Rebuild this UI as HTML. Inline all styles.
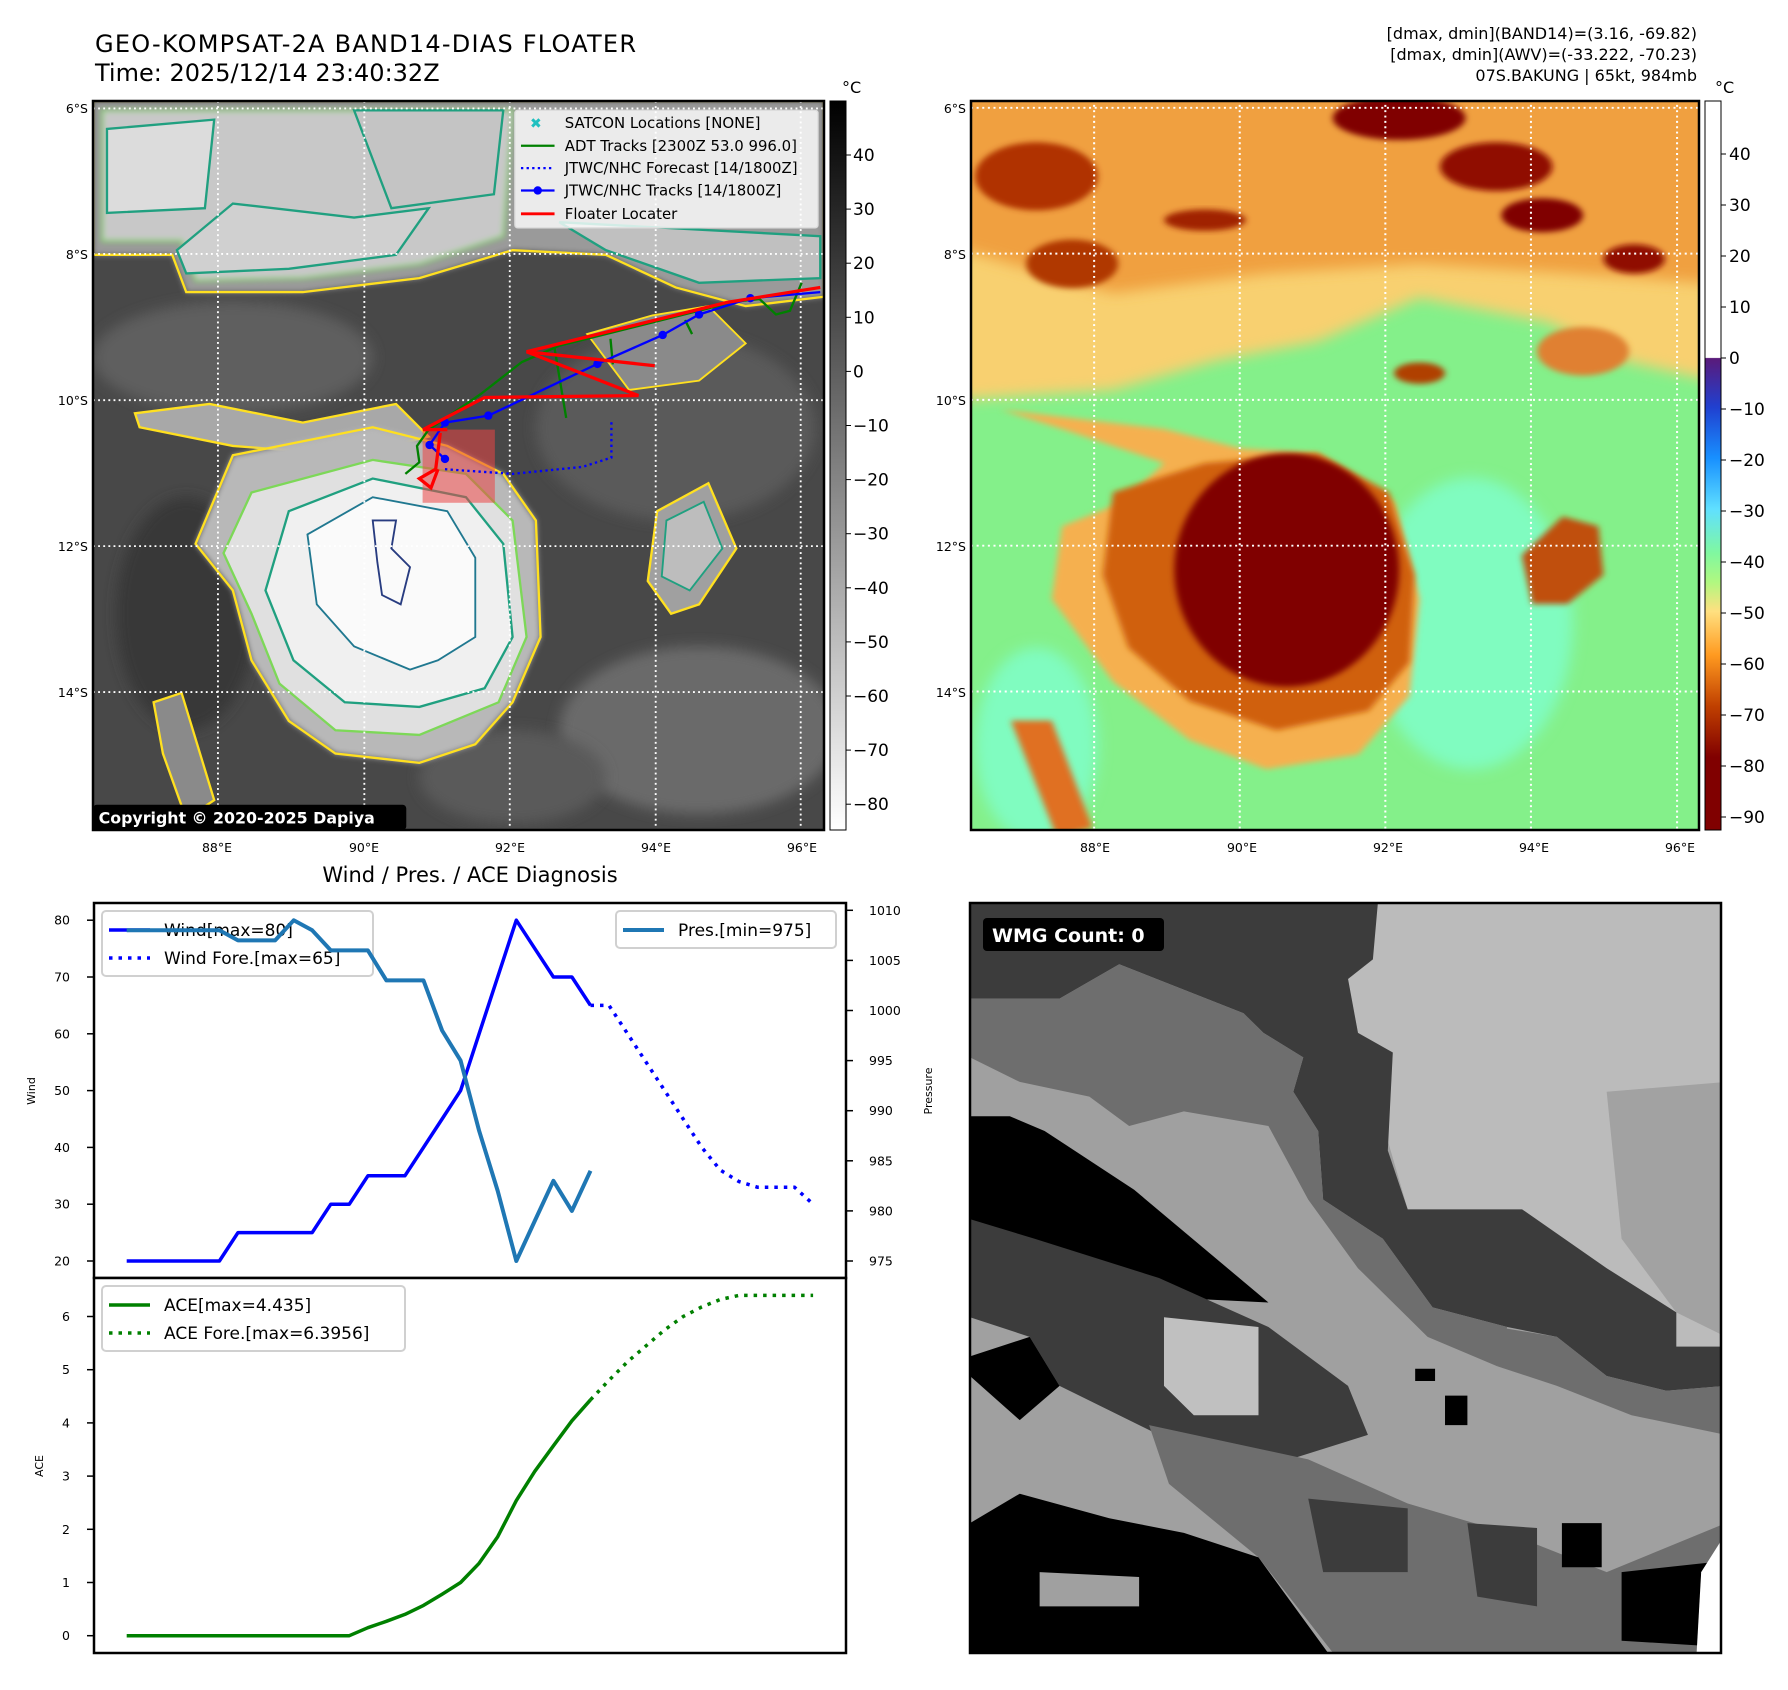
<!DOCTYPE html>
<html><head><meta charset="utf-8"><style>
html,body{margin:0;padding:0;background:#fff}
svg{display:block;font-family:"DejaVu Sans","Liberation Sans",sans-serif}
</style></head><body>
<svg id="fig" width="1788" height="1690" viewBox="0 0 1788 1690" xmlns="http://www.w3.org/2000/svg">
<defs>
<filter id="b4" x="-20%" y="-20%" width="140%" height="140%"><feGaussianBlur stdDeviation="6"/></filter>
<filter id="b10" x="-30%" y="-30%" width="160%" height="160%"><feGaussianBlur stdDeviation="14"/></filter>
<clipPath id="cl1"><rect x="93" y="101" width="731" height="729"/></clipPath>
<clipPath id="cl2"><rect x="971" y="101" width="728" height="729"/></clipPath>
<clipPath id="cl3"><rect x="970" y="903" width="751" height="750"/></clipPath>
<linearGradient id="gcb" x1="0" y1="0" x2="0" y2="1"><stop offset="0" stop-color="#000"/><stop offset="1" stop-color="#fff"/></linearGradient>
<linearGradient id="ccb" x1="0" y1="0" x2="0" y2="1">
<stop offset="0" stop-color="#fff"/><stop offset="0.352" stop-color="#fff"/><stop offset="0.353" stop-color="#5a1a7a"/>
<stop offset="0.42" stop-color="#2040d0"/><stop offset="0.49" stop-color="#1890ff"/><stop offset="0.56" stop-color="#60e0ff"/>
<stop offset="0.62" stop-color="#80f8a0"/><stop offset="0.66" stop-color="#b0f880"/><stop offset="0.70" stop-color="#ffe080"/>
<stop offset="0.76" stop-color="#ff9a20"/><stop offset="0.83" stop-color="#c04000"/><stop offset="0.90" stop-color="#800000"/><stop offset="1" stop-color="#800000"/></linearGradient>
</defs>

<text x="95" y="52" font-size="24" textLength="541">GEO-KOMPSAT-2A BAND14-DIAS FLOATER</text>
<text x="95" y="81" font-size="24">Time: 2025/12/14 23:40:32Z</text>
<g font-size="16" text-anchor="end">
<text x="1697" y="39">[dmax, dmin](BAND14)=(3.16, -69.82)</text>
<text x="1697" y="60">[dmax, dmin](AWV)=(-33.222, -70.23)</text>
<text x="1697" y="81">07S.BAKUNG | 65kt, 984mb</text>
</g>

<g clip-path="url(#cl1)">
<g transform="translate(93,101) scale(0.4662,0.4661)">
<rect x="0" y="0" width="1568" height="1564" fill="#484848"/>
<ellipse cx="1250" cy="700" rx="300" ry="200" fill="#5a5a5a" filter="url(#b10)"/>
<ellipse cx="1300" cy="1350" rx="300" ry="180" fill="#6a6a6a" filter="url(#b10)"/>
<ellipse cx="300" cy="550" rx="300" ry="120" fill="#5e5e5e" filter="url(#b10)"/>
<ellipse cx="900" cy="1450" rx="200" ry="100" fill="#5a5a5a" filter="url(#b10)"/>
<ellipse cx="200" cy="1100" rx="150" ry="250" fill="#383838" filter="url(#b10)"/>
<path d="M0,0 L1568,0 L1568,420 L1400,440 L1250,400 L1100,330 L900,320 L700,380 L450,410 L200,410 L170,330 L0,330 Z" fill="#9a9a9a" filter="url(#b4)"/>
<path d="M0,0 L1568,0 L1568,420 L1400,440 L1250,400 L1100,330 L900,320 L700,380 L450,410 L200,410 L170,330 L0,330 Z" fill="none" stroke="#ffe020" stroke-width="5"/>
<path d="M20,20 L900,20 L880,290 L700,350 L450,380 L220,385 L190,300 L20,300 Z" fill="#c8c8c8" filter="url(#b4)" stroke="#7dd858" stroke-width="5"/>
<path d="M30,60 L260,40 L240,230 L30,240 Z" fill="#dcdcdc" stroke="#20a080" stroke-width="5"/>
<path d="M180,320 L300,220 L560,250 L720,230 L650,330 L420,360 L200,370 Z" fill="#d0d0d0" stroke="#20a080" stroke-width="5"/>
<path d="M1000,260 L1560,290 L1560,380 L1300,390 L1100,320 Z" fill="#c0c0c0" stroke="#20a080" stroke-width="5"/>
<path d="M560,20 L880,20 L860,200 L640,230 Z" fill="#c4c4c4" stroke="#20a080" stroke-width="5"/>
<path d="M90,670 L250,650 L450,690 L650,650 L720,720 L560,760 L300,740 L100,700 Z" fill="#a8a8a8" stroke="#ffe020" stroke-width="5"/>
<path d="M300,760 L600,700 L760,740 L880,800 L950,900 L960,1150 L900,1290 L820,1380 L700,1420 L520,1400 L420,1330 L340,1200 L300,1050 L220,950 Z" fill="#b8b8b8" filter="url(#b4)"/>
<path d="M300,760 L600,700 L760,740 L880,800 L950,900 L960,1150 L900,1290 L820,1380 L700,1420 L520,1400 L420,1330 L340,1200 L300,1050 L220,950 Z" fill="none" stroke="#ffe020" stroke-width="5"/>
<path d="M340,840 L600,770 L800,800 L900,900 L930,1150 L870,1290 L700,1360 L520,1350 L400,1250 L340,1100 L280,970 Z" fill="#e0e0e0" stroke="#7dd858" stroke-width="5"/>
<path d="M420,880 L600,810 L800,850 L880,950 L900,1150 L840,1260 L700,1300 L540,1290 L430,1200 L370,1050 Z" fill="#f0f0f0" stroke="#20a080" stroke-width="5"/>
<path d="M460,930 L600,850 L760,880 L820,980 L820,1150 L740,1200 L680,1220 L560,1170 L480,1080 Z" fill="#fafafa" stroke="#207890" stroke-width="4"/>
<path d="M600,900 L650,900 L640,960 L680,1000 L660,1080 L620,1060 L610,990 Z" fill="none" stroke="#283c80" stroke-width="4"/>
<path d="M1210,880 L1320,820 L1380,960 L1300,1080 L1240,1100 L1190,1030 Z" fill="#a0a0a0" stroke="#ffe020" stroke-width="5"/>
<path d="M1230,900 L1310,860 L1350,960 L1280,1050 L1220,1020 Z" fill="#bdbdbd" stroke="#20a080" stroke-width="4"/>
<path d="M130,1290 L190,1270 L260,1500 L200,1540 L150,1400 Z" fill="#8a8a8a" stroke="#ffe020" stroke-width="5"/>
<path d="M1060,500 L1200,460 L1320,440 L1400,520 L1300,600 L1150,620 Z" fill="#8a8a8a" stroke="#ffe020" stroke-width="4"/>
<g stroke="#fff" stroke-width="4" stroke-dasharray="4 7" fill="none">
<line x1="268" y1="0" x2="268" y2="1564"/><line x1="582" y1="0" x2="582" y2="1564"/><line x1="894" y1="0" x2="894" y2="1564"/><line x1="1207" y1="0" x2="1207" y2="1564"/><line x1="1518" y1="0" x2="1518" y2="1564"/>
<line x1="0" y1="16" x2="1568" y2="16"/><line x1="0" y1="328" x2="1568" y2="328"/><line x1="0" y1="642" x2="1568" y2="642"/><line x1="0" y1="955" x2="1568" y2="955"/><line x1="0" y1="1268" x2="1568" y2="1268"/>
</g>
<rect x="707" y="705" width="155" height="157" fill="rgba(235,70,70,0.55)"/>
<polyline points="1520,390 1495,450 1465,458 1430,425 1380,430 1000,525 920,560 830,630 720,705 695,740 700,775 670,800" fill="none" stroke="#008000" stroke-width="5"/>
<g stroke="#008000" stroke-width="5"><line x1="990" y1="530" x2="1015" y2="680"/><line x1="1110" y1="510" x2="1115" y2="565"/><line x1="1270" y1="470" x2="1285" y2="500"/></g>
<polyline points="755,790 900,800 1050,785 1112,765 1112,685" fill="none" stroke="#0000ff" stroke-width="5" stroke-dasharray="5 7"/>
<polyline points="1560,410 1410,423 1300,458 1222,502 1082,564 848,675 755,690 722,738 755,768" fill="none" stroke="#0000ff" stroke-width="5"/>
<g fill="#0000ff"><circle cx="1410" cy="423" r="9"/><circle cx="1300" cy="458" r="9"/><circle cx="1222" cy="502" r="9"/><circle cx="1082" cy="564" r="9"/><circle cx="848" cy="675" r="9"/><circle cx="755" cy="690" r="9"/><circle cx="722" cy="738" r="9"/><circle cx="755" cy="768" r="9"/></g>
<g fill="none" stroke="#ff0000" stroke-width="7">
<polyline points="1560,400 1360,432 930,538 1205,568"/>
<polyline points="930,538 1170,632 840,636 708,705 760,705"/>
<polyline points="745,712 735,790 700,810 725,830 740,790"/>
</g>
<g>
<rect x="905" y="20" width="650" height="252" rx="6" fill="rgba(255,255,255,0.8)" stroke="#ddd" stroke-width="3"/>
<g font-size="32" fill="#000">
<text x="950" y="58" font-size="30" fill="#20c0c0" font-weight="bold" text-anchor="middle">✖</text>
<text x="1012" y="58">SATCON Locations [NONE]</text>
<line x1="918" y1="96" x2="990" y2="96" stroke="#008000" stroke-width="5"/><text x="1012" y="107">ADT Tracks [2300Z 53.0 996.0]</text>
<line x1="918" y1="144" x2="990" y2="144" stroke="#0000ff" stroke-width="5" stroke-dasharray="5 7"/><text x="1012" y="155">JTWC/NHC Forecast [14/1800Z]</text>
<line x1="918" y1="192" x2="990" y2="192" stroke="#0000ff" stroke-width="5"/><circle cx="954" cy="192" r="9" fill="#0000ff"/><text x="1012" y="203">JTWC/NHC Tracks [14/1800Z]</text>
<line x1="918" y1="242" x2="990" y2="242" stroke="#ff0000" stroke-width="6"/><text x="1012" y="253">Floater Locater</text>
</g></g>
<rect x="0" y="1510" width="672" height="54" rx="8" fill="#000"/>
<text x="12" y="1550" font-size="34" font-weight="bold" fill="#fff">Copyright © 2020-2025 Dapiya</text>
</g></g>
<rect x="93" y="101" width="731" height="729" fill="none" stroke="#000" stroke-width="2.5"/>
<g font-size="12.5" text-anchor="end">
<text x="88" y="113">6°S</text><text x="88" y="259">8°S</text><text x="88" y="405">10°S</text><text x="88" y="551">12°S</text><text x="88" y="697">14°S</text></g>
<g font-size="12.5" text-anchor="middle">
<text x="217" y="852">88°E</text><text x="364" y="852">90°E</text><text x="510" y="852">92°E</text><text x="656" y="852">94°E</text><text x="802" y="852">96°E</text></g>
<rect x="830" y="101" width="16" height="729" fill="url(#gcb)" stroke="#000" stroke-width="1"/>
<text x="842" y="93" font-size="16">°C</text>
<g id="lcb" font-size="17"></g>

<g clip-path="url(#cl2)">
<g transform="translate(971,101) scale(0.5109,0.486) translate(-22,-25)">
<rect x="0" y="0" width="1470" height="1550" fill="#84f08a"/>
<ellipse cx="1000" cy="1100" rx="200" ry="300" fill="#80fcc0" filter="url(#b10)"/>
<ellipse cx="150" cy="1350" rx="120" ry="200" fill="#80fcc0" filter="url(#b10)"/>
<path d="M0,0 L1470,0 L1470,600 L1300,560 L1150,480 L900,430 L700,520 L500,560 L300,620 L0,640 Z" fill="#f8d070" filter="url(#b10)"/>
<path d="M0,0 L1470,0 L1470,400 L1200,380 L900,360 L600,380 L300,420 L0,330 Z" fill="#f0a040" filter="url(#b10)"/>
<ellipse cx="150" cy="180" rx="120" ry="70" fill="#b03000" filter="url(#b4)"/>
<ellipse cx="860" cy="60" rx="130" ry="45" fill="#800000" filter="url(#b4)"/>
<ellipse cx="1050" cy="160" rx="110" ry="50" fill="#900800" filter="url(#b4)"/>
<ellipse cx="1140" cy="260" rx="80" ry="35" fill="#800000" filter="url(#b4)"/>
<ellipse cx="220" cy="360" rx="90" ry="50" fill="#b03800" filter="url(#b4)"/>
<ellipse cx="480" cy="270" rx="80" ry="22" fill="#a02000" filter="url(#b4)"/>
<ellipse cx="1320" cy="350" rx="60" ry="30" fill="#901000" filter="url(#b4)"/>
<ellipse cx="1220" cy="540" rx="90" ry="50" fill="#e08030" filter="url(#b4)"/>
<ellipse cx="900" cy="585" rx="50" ry="22" fill="#b04000" filter="url(#b4)"/>
<path d="M80,660 L400,700 L550,740 L700,750 L850,850 L900,1050 L880,1250 L780,1370 L600,1400 L450,1340 L300,1220 L180,1050 L200,900 L320,850 L400,770 L200,700 Z" fill="#f5b050" filter="url(#b4)"/>
<path d="M300,830 L480,770 L700,750 L840,830 L890,1000 L880,1180 L800,1280 L620,1320 L450,1260 L330,1150 L280,1000 Z" fill="#d06010" filter="url(#b4)"/>
<ellipse cx="640" cy="990" rx="220" ry="240" fill="#800000" filter="url(#b4)"/>
<path d="M1100,960 L1180,880 L1250,900 L1260,1000 L1190,1060 L1120,1060 Z" fill="#c05010" filter="url(#b4)"/>
<path d="M100,1300 L180,1300 L260,1520 L190,1540 Z" fill="#e07020" filter="url(#b4)"/>
<g stroke="#fff" stroke-width="4" stroke-dasharray="4 7" fill="none">
<line x1="263" y1="0" x2="263" y2="1550"/><line x1="548" y1="0" x2="548" y2="1550"/><line x1="833" y1="0" x2="833" y2="1550"/><line x1="1118" y1="0" x2="1118" y2="1550"/><line x1="1404" y1="0" x2="1404" y2="1550"/>
<line x1="0" y1="39" x2="1470" y2="39"/><line x1="0" y1="339" x2="1470" y2="339"/><line x1="0" y1="640" x2="1470" y2="640"/><line x1="0" y1="940" x2="1470" y2="940"/><line x1="0" y1="1240" x2="1470" y2="1240"/>
</g></g></g>
<rect x="971" y="101" width="728" height="729" fill="none" stroke="#000" stroke-width="2.5"/>
<g font-size="12.5" text-anchor="end">
<text x="966" y="113">6°S</text><text x="966" y="259">8°S</text><text x="966" y="405">10°S</text><text x="966" y="551">12°S</text><text x="966" y="697">14°S</text></g>
<g font-size="12.5" text-anchor="middle">
<text x="1095" y="852">88°E</text><text x="1242" y="852">90°E</text><text x="1388" y="852">92°E</text><text x="1534" y="852">94°E</text><text x="1680" y="852">96°E</text></g>
<rect x="1705" y="101" width="16" height="729" fill="url(#ccb)" stroke="#000" stroke-width="1"/>
<text x="1715" y="93" font-size="16">°C</text>
<g id="rcb" font-size="17"></g>

<g clip-path="url(#cl3)">
<g transform="translate(970,903) scale(0.4974,0.4902) translate(-20,-15)">
<rect x="0" y="0" width="1560" height="1560" fill="#a0a0a0"/>
<path d="M800,15 L1540,15 L1540,920 L1440,920 L1300,760 L1130,640 L900,640 L860,500 L870,320 L800,280 L780,170 Z" fill="#bbbbbb"/>
<path d="M1300,400 L1540,380 L1540,900 L1440,850 L1330,700 Z" fill="#a2a2a2"/>
<path d="M20,15 L840,15 L830,130 L780,170 L800,280 L870,320 L860,520 L900,640 L1130,640 L1300,760 L1440,850 L1440,920 L1540,920 L1540,1000 L1420,1010 L1300,980 L1200,900 L1100,880 L950,840 L850,700 L730,620 L720,480 L670,400 L690,330 L610,280 L570,240 L320,140 L200,210 L20,210 Z" fill="#3c3c3c"/>
<path d="M20,210 L200,210 L320,140 L570,240 L610,280 L690,330 L670,400 L720,480 L730,620 L850,700 L950,840 L1100,880 L1080,960 L940,900 L800,760 L700,620 L620,470 L450,440 L340,470 L260,410 L120,380 L20,330 Z" fill="#6e6e6e"/>
<path d="M20,450 L100,450 L170,480 L350,600 L620,830 L420,820 L220,780 L20,720 Z" fill="#000"/>
<path d="M20,660 L150,700 L400,780 L620,880 L780,1000 L820,1100 L600,1170 L400,1100 L200,1000 L140,900 L20,860 Z" fill="#3c3c3c"/>
<path d="M410,860 L600,880 L600,1060 L470,1060 L410,1000 Z" fill="#c0c0c0"/>
<path d="M20,940 L140,900 L200,1000 L120,1070 L20,980 Z" fill="#000"/>
<path d="M380,1080 L700,1150 L900,1240 L1100,1300 L1300,1380 L1540,1280 L1540,1545 L750,1545 L600,1350 L420,1200 Z" fill="#6e6e6e"/>
<path d="M700,1230 L900,1250 L900,1380 L730,1380 Z" fill="#3c3c3c"/>
<path d="M1020,1280 L1160,1290 L1160,1450 L1040,1430 Z" fill="#3c3c3c"/>
<path d="M1080,880 L1200,900 L1300,980 L1420,1010 L1540,1000 L1540,1100 L1350,1060 L1200,1000 L1080,960 Z" fill="#6e6e6e"/>
<path d="M20,1280 L120,1220 L300,1270 L450,1300 L600,1350 L740,1545 L20,1545 Z" fill="#000"/>
<path d="M160,1380 L360,1390 L360,1450 L160,1450 Z" fill="#a0a0a0"/>
<path d="M1210,1280 L1290,1280 L1290,1370 L1210,1370 Z M1330,1380 L1510,1360 L1490,1530 L1330,1520 Z M915,965 L955,965 L955,990 L915,990 Z M975,1020 L1020,1020 L1020,1080 L975,1080 Z" fill="#000"/>
<path d="M1490,1380 L1540,1300 L1540,1560 L1480,1560 Z" fill="#fff"/>
</g>
<rect x="983" y="918" width="181" height="33" rx="4" fill="#000"/>
<text x="992" y="942" font-size="19" font-weight="bold" fill="#fff">WMG Count: 0</text>
</g>
<rect x="970" y="903" width="751" height="750" fill="none" stroke="#000" stroke-width="2.5"/>

<text x="470" y="882" font-size="21" text-anchor="middle">Wind / Pres. / ACE Diagnosis</text>
<g id="charts"></g>
</svg>
<script>
const windVals = [20,20,20,20,20,20,25,25,25,25,25,30,30,35,35,35,40,45,50,60,70,80,75,70,70,65];
const windFore = [65,65,60,55,50,45,40,36,34,33,33,33,30];
const presVals = [1008,1008,1008,1008,1008,1008,1007,1007,1007,1009,1008,1006,1006,1006,1003,1003,1003,998,995,988,982,975,979,983,980,984];
const aceVals = [0,0,0,0,0,0,0,0,0,0,0,0,0,0.15,0.27,0.4,0.57,0.78,1.0,1.36,1.86,2.54,3.09,3.57,4.04,4.435];
const aceFore = [4.435,4.8,5.15,5.45,5.75,6.0,6.18,6.32,6.396,6.396,6.396,6.396,6.396];
const windTicks = [20,30,40,50,60,70,80];
const presTicks = [975,980,985,990,995,1000,1005,1010];
const aceTicks = [0,1,2,3,4,5,6];
const irCbTicks = [40,30,20,10,0,-10,-20,-30,-40,-50,-60,-70,-80];
const awvCbTicks = [40,30,20,10,0,-10,-20,-30,-40,-50,-60,-70,-80,-90];

const NS='http://www.w3.org/2000/svg';
function mk(tag, attrs, parent){const e=document.createElementNS(NS,tag);for(const k in attrs)e.setAttribute(k,attrs[k]);parent.appendChild(e);return e;}
const xI = i => 126.7 + 18.55*i;
const yW = v => 1261 - (v-20)*5.68;
const yP = p => 1261 - (p-975)*10.02;
const yA = a => 1635.7 - a*53.2;
const yIr = v => 155 + (40-v)*5.41;
const yAwv = v => 358 - v*5.1;
const fmt = v => v<0 ? '\u2212'+(-v) : ''+v;

const lcb=document.getElementById('lcb');
irCbTicks.forEach(v=>{
  const y=yIr(v);
  const l=mk('line',{x1:846,x2:851,y1:y,y2:y,stroke:'#000'},lcb);
  
  
  const t=mk('text',{x:853,y:y+6},lcb); t.textContent=fmt(v);
  
  
});
const rcb=document.getElementById('rcb');
awvCbTicks.forEach(v=>{
  const y=yAwv(v);
  const l=mk('line',{x1:1721,x2:1726,y1:y,y2:y,stroke:'#000'},rcb);
  
  
  const t=mk('text',{x:1729,y:y+6},rcb); t.textContent=fmt(v);
  
  
});

const g=document.getElementById('charts');
function pts(arr, off, yf){return arr.map((v,i)=>xI(i+off).toFixed(1)+','+yf(v).toFixed(1)).join(' ');}
let r=mk('rect',{x:94,y:903,width:752,height:375,fill:'#fff',stroke:'#000','stroke-width':2.5},g);


r=mk('rect',{x:94,y:1278,width:752,height:375,fill:'#fff',stroke:'#000','stroke-width':2.5},g);


windTicks.forEach(v=>{const y=yW(v);
  mk('line',{x1:87,x2:94,y1:y,y2:y,stroke:'#000','stroke-width':1.5},g);
  const t=mk('text',{x:70,y:y+4.5,'font-size':12.5,'text-anchor':'end'},g);t.textContent=v;
  
  });
presTicks.forEach(v=>{const y=yP(v);
  mk('line',{x1:846,x2:853,y1:y,y2:y,stroke:'#000','stroke-width':1.5},g);
  const t=mk('text',{x:869,y:y+4.5,'font-size':12.5},g);t.textContent=v;
  
  });
aceTicks.forEach(v=>{const y=yA(v);
  mk('line',{x1:87,x2:94,y1:y,y2:y,stroke:'#000','stroke-width':1.5},g);
  const t=mk('text',{x:70,y:y+4.5,'font-size':12.5,'text-anchor':'end'},g);t.textContent=v;
  
  });
let t=mk('text',{x:0,y:0,'font-size':11,transform:'translate(35,1091) rotate(-90)','text-anchor':'middle'},g);t.textContent='Wind';


t=mk('text',{x:0,y:0,'font-size':11,transform:'translate(932,1091) rotate(-90)','text-anchor':'middle'},g);t.textContent='Pressure';


t=mk('text',{x:0,y:0,'font-size':11,transform:'translate(43,1466) rotate(-90)','text-anchor':'middle'},g);t.textContent='ACE';



function legend(x,y,w,h,items,name){
  const lg=mk('g',{},g);
  
  
  mk('rect',{x:x,y:y,width:w,height:h,rx:4,fill:'rgba(255,255,255,0.8)',stroke:'#d0d0d0','stroke-width':2},lg);
  items.forEach((it,k)=>{const yy=y+19+k*28;
    const a={x1:x+7,x2:x+48,y1:yy,y2:yy,stroke:it.c,'stroke-width':it.w||3.5};
    if(it.d)a['stroke-dasharray']='3.5 6';
    mk('line',a,lg);
    const tt=mk('text',{x:x+62,y:yy+6,'font-size':17},lg);tt.textContent=it.t;});
}

let p=mk('polyline',{points:pts(windVals,0,yW),fill:'none',stroke:'#0000ff','stroke-width':3.5,'stroke-linejoin':'round'},g);


p=mk('polyline',{points:pts(windFore,25,yW),fill:'none',stroke:'#0000ff','stroke-width':3.5,'stroke-dasharray':'3.5 6'},g);


legend(102,911,271,65,[{c:'#0000ff',t:'Wind[max=80]'},{c:'#0000ff',t:'Wind Fore.[max=65]',d:1}],'wind-legend');
p=mk('polyline',{points:pts(aceVals,0,yA),fill:'none',stroke:'#008000','stroke-width':3.5,'stroke-linejoin':'round'},g);


p=mk('polyline',{points:pts(aceFore,25,yA),fill:'none',stroke:'#008000','stroke-width':3.5,'stroke-dasharray':'3.5 6'},g);


legend(102,1286,303,65,[{c:'#008000',t:'ACE[max=4.435]'},{c:'#008000',t:'ACE Fore.[max=6.3956]',d:1}],'ace-legend');
p=mk('polyline',{points:pts(presVals,0,yP),fill:'none',stroke:'#1f77b4','stroke-width':4,'stroke-linejoin':'round'},g);


legend(616,911,220,37,[{c:'#1f77b4',t:'Pres.[min=975]',w:4}],'pressure-legend');
</script>
</body></html>
